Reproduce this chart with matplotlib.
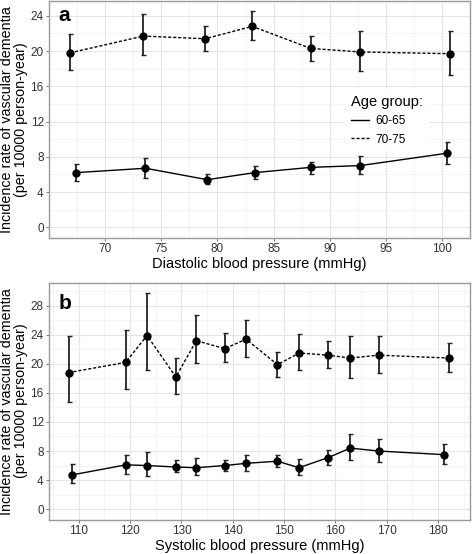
import numpy as np
import matplotlib.pyplot as plt
from matplotlib.lines import Line2D
from matplotlib.ticker import MultipleLocator

plt.rcParams['font.family'] = ['Liberation Sans', 'DejaVu Sans']

# Panel a: diastolic blood pressure
dbp_young_x = [67.4, 73.6, 79.1, 83.3, 88.3, 92.7, 100.4]
dbp_young_y = [6.2, 6.7, 5.4, 6.2, 6.8, 7.0, 8.4]
dbp_young_lo = [5.3, 5.6, 4.9, 5.5, 6.1, 6.0, 7.2]
dbp_young_hi = [7.2, 7.9, 6.0, 7.0, 7.4, 8.1, 9.7]

dbp_old_x = [66.9, 73.4, 78.9, 83.1, 88.3, 92.7, 100.7]
dbp_old_y = [19.8, 21.7, 21.4, 22.8, 20.3, 19.9, 19.7]
dbp_old_lo = [17.8, 19.5, 20.0, 21.3, 18.9, 17.7, 17.3]
dbp_old_hi = [21.9, 24.2, 22.8, 24.5, 21.7, 22.3, 22.3]

# Panel b: systolic blood pressure
sbp_young_x = [108.6, 119.2, 123.3, 128.9, 132.9, 138.4, 142.5, 148.7, 152.9, 158.6, 162.9, 168.4, 181.2]
sbp_young_y = [4.7, 6.1, 6.0, 5.8, 5.7, 6.0, 6.3, 6.6, 5.7, 7.1, 8.4, 8.0, 7.5]
sbp_young_lo = [3.6, 4.9, 4.6, 5.1, 4.7, 5.3, 5.3, 5.8, 4.7, 6.1, 6.8, 6.5, 6.2]
sbp_young_hi = [6.2, 7.5, 7.8, 6.8, 7.0, 6.8, 7.5, 7.5, 6.9, 8.1, 10.3, 9.7, 9.0]

sbp_old_x = [108.0, 119.1, 123.3, 128.9, 132.9, 138.4, 142.6, 148.7, 153.0, 158.5, 162.9, 168.4, 182.2]
sbp_old_y = [18.8, 20.2, 23.9, 18.2, 23.2, 22.1, 23.4, 19.9, 21.5, 21.2, 20.8, 21.2, 20.8]
sbp_old_lo = [14.7, 16.6, 19.1, 15.8, 20.1, 20.2, 21.0, 18.2, 19.1, 19.5, 18.1, 18.8, 18.9]
sbp_old_hi = [23.9, 24.6, 29.7, 20.8, 26.7, 24.2, 26.1, 21.7, 24.1, 23.2, 23.9, 23.8, 22.9]

age_labels = ['60-65', '70-75']
DASH = (0, (2.2, 1.4))
YTITLE = 'Incidence rate of vascular dementia\n(per 10000 person-year)'


def draw_series(ax, x, y, lo, hi, ls):
    x, y, lo, hi = map(np.asarray, (x, y, lo, hi))
    ax.plot(x, y, color='black', lw=1.0, linestyle=ls, zorder=3)
    ax.errorbar(x, y, yerr=[y - lo, hi - y], fmt='o', color='black', ms=5,
                elinewidth=1.3, capsize=1.8, capthick=1.0, ecolor='#222222', zorder=4)


def style_axes(ax, xlim, ylim, xmaj, ymaj):
    ax.set_xlim(*xlim)
    ax.set_ylim(*ylim)
    ax.xaxis.set_major_locator(MultipleLocator(xmaj))
    ax.xaxis.set_minor_locator(MultipleLocator(xmaj / 2))
    ax.yaxis.set_major_locator(MultipleLocator(ymaj))
    ax.yaxis.set_minor_locator(MultipleLocator(ymaj / 2))
    ax.grid(which='major', color='#e6e6e6', lw=0.8, zorder=0)
    ax.grid(which='minor', color='#f3f3f3', lw=0.6, zorder=0)
    ax.set_axisbelow(True)
    for s in ax.spines.values():
        s.set_color('#9a9a9a')
        s.set_linewidth(1.0)
    ax.tick_params(which='major', length=2.5, width=0.7, color='#777777',
                   labelsize=8.5, labelcolor='#333333', pad=1.5)
    ax.tick_params(which='minor', length=0)


fig = plt.figure(figsize=(4.72, 5.54), dpi=100)
ax_a = fig.add_axes([0.1045, 0.571, 0.891, 0.427])
ax_b = fig.add_axes([0.1045, 0.062, 0.891, 0.428])

draw_series(ax_a, dbp_young_x, dbp_young_y, dbp_young_lo, dbp_young_hi, '-')
draw_series(ax_a, dbp_old_x, dbp_old_y, dbp_old_lo, dbp_old_hi, DASH)
style_axes(ax_a, (65.05, 102.45), (-1.18, 25.67), 5, 4)

draw_series(ax_b, sbp_young_x, sbp_young_y, sbp_young_lo, sbp_young_hi, '-')
draw_series(ax_b, sbp_old_x, sbp_old_y, sbp_old_lo, sbp_old_hi, DASH)
style_axes(ax_b, (104.25, 186.2), (-1.45, 31.2), 10, 4)

for ax, title, lab, ylab in [(ax_a, 'Diastolic blood pressure (mmHg)', 'a', 0.915),
                             (ax_b, 'Systolic blood pressure (mmHg)', 'b', 0.888)]:
    ax.set_xlabel(title, fontsize=10.5, labelpad=1.0)
    ax.text(0.021, ylab, lab, transform=ax.transAxes, fontsize=15,
            fontweight='bold', va='baseline', ha='left')
    pos = ax.get_position()
    fig.text(14 / 472, pos.y0 + pos.height / 2, YTITLE, rotation=90,
             ha='center', va='center', fontsize=10.3, linespacing=1.05)

handles = [Line2D([], [], color='black', lw=1.0, linestyle='-'),
           Line2D([], [], color='black', lw=1.0, linestyle=DASH)]
leg = ax_a.legend(handles, age_labels, title='Age group:', loc='upper left',
                  bbox_to_anchor=(0.69, 0.655), frameon=True, fontsize=8.5,
                  title_fontsize=10.5, handlelength=1.5, handletextpad=0.5,
                  labelspacing=0.55, borderpad=0.5, fancybox=False)
leg.get_frame().set_facecolor('white')
leg.get_frame().set_edgecolor('none')
leg.get_frame().set_alpha(1)
leg._legend_box.align = 'left'

fig.savefig('out.png', dpi=100)
